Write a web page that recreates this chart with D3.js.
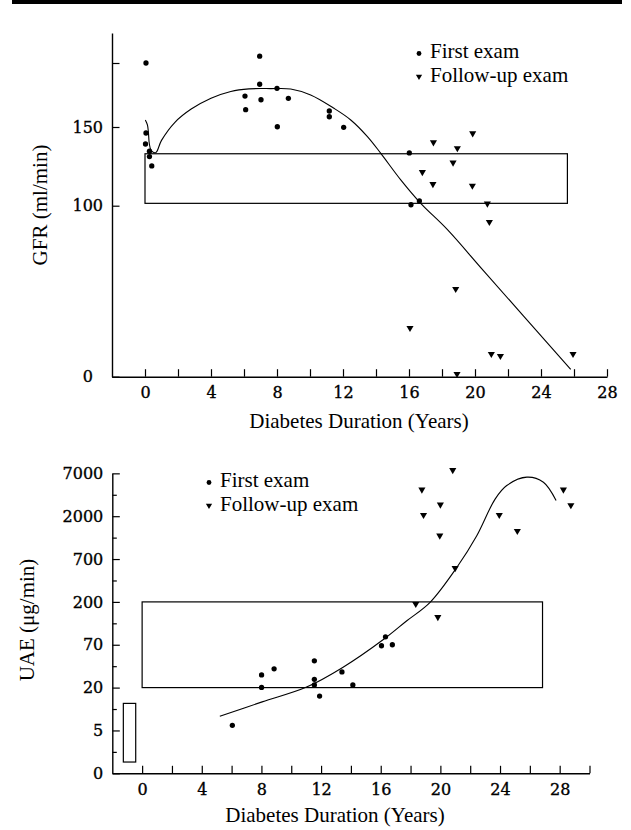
<!DOCTYPE html>
<html>
<head>
<meta charset="utf-8">
<script src="https://cdn.jsdelivr.net/npm/d3@7"></script>
<style>
  body { margin: 0; background: #fff; }
  svg { display: block; }
</style>
</head>
<body>
<div id="chart"></div>
<script>
// ---- GFR panel data (years, ml/min) ----
const gfrFirstExam = [
  [0.06, 200], [0.06, 146.2], [0.03, 139.2], [0.27, 134.6], [0.27, 131.2], [0.41, 125.3],
  [6.95, 205.5], [6.95, 183.4], [6.06, 174.2], [7.03, 171.3], [8.0, 180.2], [8.69, 172.4],
  [6.1, 163.5], [8.02, 150.2], [11.17, 162.5], [11.17, 158], [12.04, 149.8],
  [16.02, 133.5], [16.12, 100.6], [16.63, 103]
];
const gfrFollowUp = [
  [17.48, 140.3], [19.86, 146], [18.93, 136.5], [18.67, 127.4], [16.81, 121.3],
  [17.45, 113.7], [19.84, 112.7], [20.75, 101.3], [20.87, 90.5], [18.83, 51.3],
  [16.06, 28.5], [20.99, 13.3], [21.54, 12.1], [25.94, 13.3], [18.91, 1.6]
];
const gfrFit = [
  [0.02, 155.5], [0.15, 151.5], [0.21, 146.2], [0.26, 139.5], [0.38, 135], [0.65, 133.7],
  [1.0, 141.5], [1.8, 153.5], [2.8, 164], [4.0, 172.5], [5.2, 177.8], [6.3, 179.8],
  [7.62, 180], [8.83, 179.7], [10.04, 175], [11.45, 164.6],
  [12.47, 155.5], [13.48, 143.9], [14.28, 133.4], [15.5, 116.4], [16.71, 101.5],
  [18.33, 86], [20.55, 61.6], [25.8, 4.3]
];
const gfrNormalYears = [0, 25.6];
const gfrNormalRange = [101.5, 133];
const gfrTickValues = [0, 100, 150, 200];
const gfrTickLabels = ["0", "100", "150", ""];

// ---- UAE panel data (years, ug/min) ----
const uaeFirstExam = [
  [6.05, 5.9], [8.01, 29], [8.01, 20.1], [8.85, 34.6], [11.55, 43.7], [11.55, 25.5],
  [11.55, 21.6], [11.9, 15.2], [13.4, 31.6], [14.13, 21.6], [16.05, 68], [16.32, 85], [16.78, 70]
];
const uaeFollowUp = [
  [20.83, 7690], [18.76, 4350], [20.0, 2810], [18.87, 2075], [19.96, 1241], [23.95, 2075],
  [25.16, 1394], [28.25, 4350], [28.75, 2758], [20.99, 538], [18.35, 190], [19.83, 138]
];
const uaeFit = [
  [5.21, 7.9], [8.05, 12.6], [11.03, 20.3], [13.45, 36], [16.2, 80],
  [17.75, 126], [19.31, 198], [21.1, 547], [22.44, 1240], [23.67, 3300], [24.45, 4900],
  [25.8, 6260], [26.91, 5400], [27.76, 3160]
];
const uaeNormalYears = [0, 26.85];
const uaeNormalRange = [20, 200];
const uaeReferenceYears = [-1.26, -0.43];
const uaeReferenceRange = [1.8, 12];
const uaeTickValues = [1.25, 5, 20, 70, 200, 700, 2000, 7000];
const uaeTickLabels = ["0", "5", "20", "70", "200", "700", "2000", "7000"];

const legendLabels = ["First exam", "Follow-up exam"];
const xTitle = "Diabetes Duration (Years)";

// ---- layout ----
const width = 631, height = 830;
const tickFont = "'DejaVu Serif', serif";
const textFont = "'Liberation Serif', 'Times New Roman', serif";

const svg = d3.select("#chart").append("svg")
    .attr("width", width)
    .attr("height", height)
    .attr("viewBox", [0, 0, width, height]);

// black rule at the very top
svg.append("rect")
    .attr("x", 12).attr("y", 0)
    .attr("width", 610).attr("height", 4)
    .attr("fill", "#000");

const dotSymbol = d3.symbol().type(d3.symbolCircle).size(22);
const triSymbol = d3.symbol().type(d3.symbolTriangle).size(22);

function styleAxis(g) {
    g.select(".domain").attr("stroke", "#000").attr("stroke-width", 1.4);
    g.selectAll(".tick line").attr("stroke", "#000").attr("stroke-width", 1.2);
    g.selectAll(".tick text")
        .attr("fill", "#000")
        .style("font-family", tickFont)
        .style("font-size", "16px")
        .attr("stroke", "#000")
        .attr("stroke-width", 0.35);
}

function drawPanel(p) {
    const g = svg.append("g");

    // normal range boxes
    p.boxes.forEach(b => {
        g.append("rect")
            .attr("x", p.x(b.years[0]))
            .attr("y", p.y(b.range[1]))
            .attr("width", p.x(b.years[1]) - p.x(b.years[0]))
            .attr("height", p.y(b.range[0]) - p.y(b.range[1]))
            .attr("fill", "none")
            .attr("stroke", "#000")
            .attr("stroke-width", 1.2);
    });

    // fitted curve
    const line = d3.line()
        .x(d => p.x(d[0]))
        .y(d => p.y(d[1]))
        .curve(d3.curveCatmullRom.alpha(0.5));
    g.append("path")
        .datum(p.fit)
        .attr("d", line)
        .attr("fill", "none")
        .attr("stroke", "#000")
        .attr("stroke-width", 1.1);

    // axes
    const xAxis = g.append("g")
        .attr("transform", `translate(0,${p.x0y})`)
        .call(d3.axisBottom(p.x)
            .tickValues(p.xTicks)
            .tickSizeInner(-7.5)
            .tickSizeOuter(0)
            .tickPadding(10)
            .tickFormat(d => d % 4 === 0 ? d : ""));
    styleAxis(xAxis);

    const yAxis = g.append("g")
        .attr("transform", `translate(${p.y0x},0)`)
        .call(d3.axisLeft(p.y)
            .tickValues(p.yTicks)
            .tickSizeInner(-7.5)
            .tickSizeOuter(0)
            .tickPadding(9)
            .tickFormat((d, i) => p.yLabels[i]));
    styleAxis(yAxis);
    if (p.zeroShift) {
        yAxis.selectAll(".tick text").filter((d, i) => i === 0).attr("dx", p.zeroShift);
    }
    if (p.minorTicks) {
        const minor = g.append("g")
            .attr("transform", `translate(${p.y0x},0)`)
            .call(d3.axisLeft(p.y)
                .tickValues(p.minorTicks)
                .tickSizeInner(-4.5)
                .tickSizeOuter(0)
                .tickFormat(""));
        minor.select(".domain").remove();
        minor.selectAll(".tick line").attr("stroke", "#000").attr("stroke-width", 1.2);
    }

    // markers
    g.append("g").selectAll("path")
        .data(p.first)
        .join("path")
        .attr("d", dotSymbol)
        .attr("transform", d => `translate(${p.x(d[0])},${p.y(d[1])})`)
        .attr("fill", "#000");
    g.append("g").selectAll("path")
        .data(p.follow)
        .join("path")
        .attr("d", triSymbol)
        .attr("transform", d => `translate(${p.x(d[0])},${p.y(d[1])}) rotate(180)`)
        .attr("fill", "#000");

    // titles
    g.append("text")
        .attr("x", p.xTitlePos[0]).attr("y", p.xTitlePos[1])
        .attr("text-anchor", "middle")
        .style("font-family", textFont)
        .style("font-size", "21px")
        .text(xTitle);
    g.append("text")
        .attr("transform", `translate(${p.yTitlePos[0]},${p.yTitlePos[1]}) rotate(-90)`)
        .attr("text-anchor", "middle")
        .style("font-family", textFont)
        .style("font-size", "21px")
        .text(p.yTitle);

    // legend
    const lg = g.append("g").attr("transform", `translate(${p.legendPos[0]},${p.legendPos[1]})`);
    lg.append("circle").attr("cx", 0).attr("cy", -4.5).attr("r", 2.4).attr("fill", "#000");
    lg.append("path")
        .attr("d", d3.symbol().type(d3.symbolTriangle).size(17))
        .attr("transform", "translate(0,18.5) rotate(180)")
        .attr("fill", "#000");
    lg.selectAll("text")
        .data(legendLabels)
        .join("text")
        .attr("x", 11)
        .attr("y", (d, i) => i * 24.3)
        .style("font-family", textFont)
        .style("font-size", "21px")
        .text(d => d);
}

// ---- GFR panel ----
drawPanel({
    x: d3.scaleLinear().domain([-2, 28]).range([112, 607]),
    y: d3.scaleLinear().domain([0, 100, 150, 200, 224]).range([376.7, 205.7, 127, 63, 33]),
    x0y: 376.7,
    y0x: 112,
    xTicks: d3.range(0, 29, 2),
    yTicks: gfrTickValues,
    yLabels: gfrTickLabels,
    zeroShift: -10,
    boxes: [{ years: gfrNormalYears, range: gfrNormalRange }],
    fit: gfrFit,
    first: gfrFirstExam,
    follow: gfrFollowUp,
    xTitlePos: [359, 428],
    yTitle: "GFR (ml/min)",
    yTitlePos: [47, 205],
    legendPos: [419, 58]
});

// ---- UAE panel ----
const uaeRange = uaeTickValues.map((d, i) => 773.3 - i * 42.85);
drawPanel({
    x: d3.scaleLinear().domain([-2, 30]).range([112.3, 589.5]),
    y: d3.scaleLog().domain(uaeTickValues).range(uaeRange),
    x0y: 773.3,
    y0x: 112.3,
    xTicks: d3.range(0, 31, 2),
    yTicks: uaeTickValues,
    yLabels: uaeTickLabels,
    minorTicks: d3.pairs(uaeTickValues).map(([a, b]) => Math.sqrt(a * b)),
    boxes: [
        { years: uaeNormalYears, range: uaeNormalRange },
        { years: uaeReferenceYears, range: uaeReferenceRange }
    ],
    fit: uaeFit,
    first: uaeFirstExam,
    follow: uaeFollowUp,
    xTitlePos: [335, 822],
    yTitle: "UAE (\u03bcg/min)",
    yTitlePos: [34, 620],
    legendPos: [209, 487]
});
</script>
</body>
</html>
